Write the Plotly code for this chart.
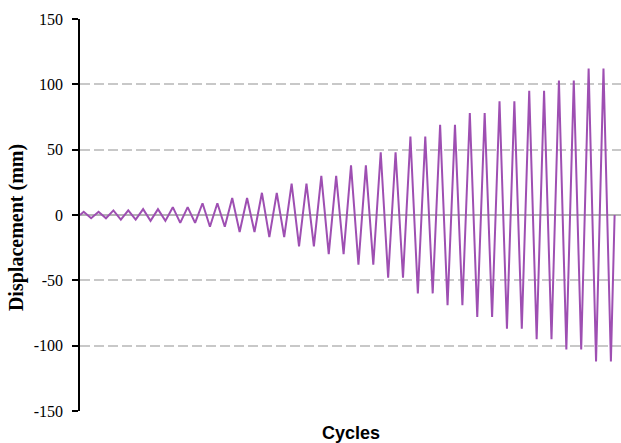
import plotly.graph_objects as go

# Amplitude levels (mm), each applied for two cycles
amplitudes = [2.5, 3.5, 4.5, 6, 9, 13, 17, 24, 30, 38, 48, 60, 69, 78, 87, 95, 103, 112]
cycles_per_level = 2
y_tickvals = [-150, -100, -50, 0, 50, 100, 150]
y_ticktext = ["-150", "-100", "-50", "0", "50", "100", "150"]

# Build the displacement history: 0 -> +A -> -A -> ... -> 0
xs = [0.0]
ys = [0.0]
c = 0
for a in amplitudes:
    for _ in range(cycles_per_level):
        xs += [c + 0.25, c + 0.75]
        ys += [a, -a]
        c += 1
xs.append(float(c))
ys.append(0.0)

SERIF = "Liberation Serif, Times New Roman, DejaVu Serif, serif"

fig = go.Figure()
fig.add_trace(go.Scatter(x=xs, y=ys, mode="lines",
                         line=dict(color="#9E4FB2", width=2),
                         showlegend=False, hoverinfo="skip"))

fig.update_layout(
    width=621, height=443,
    margin=dict(l=80, r=0, t=19, b=32),
    paper_bgcolor="white", plot_bgcolor="white",
    xaxis=dict(range=[0, 36.43], showticklabels=False, showgrid=False,
               zeroline=False, showline=False, ticks=""),
    yaxis=dict(range=[-150, 150], tickvals=y_tickvals, ticktext=y_ticktext,
               showgrid=True, gridcolor="#C8C8C8", gridwidth=1.5,
               griddash="10px,4px",
               zeroline=True, zerolinecolor="#B4B4B4", zerolinewidth=1.5,
               showline=True, linecolor="black", linewidth=1.5,
               ticks="outside", ticklen=6, tickcolor="black", tickwidth=1.5,
               tickfont=dict(family=SERIF, size=16, color="black"),
               ticklabelstandoff=6),
    annotations=[
        dict(text="<b>Cycles</b>", xref="paper", yref="paper", x=0.5, y=0,
             xanchor="center", yanchor="top", yshift=-10, showarrow=False,
             font=dict(family="Liberation Sans", size=18, color="black")),
        dict(text="<b>Displacement (mm)</b>", xref="paper", yref="y",
             x=0, y=-10, xanchor="center", yanchor="middle", xshift=-64,
             textangle=-90, showarrow=False,
             font=dict(family=SERIF, size=20, color="black")),
    ],
)

fig.write_html("out.html")
